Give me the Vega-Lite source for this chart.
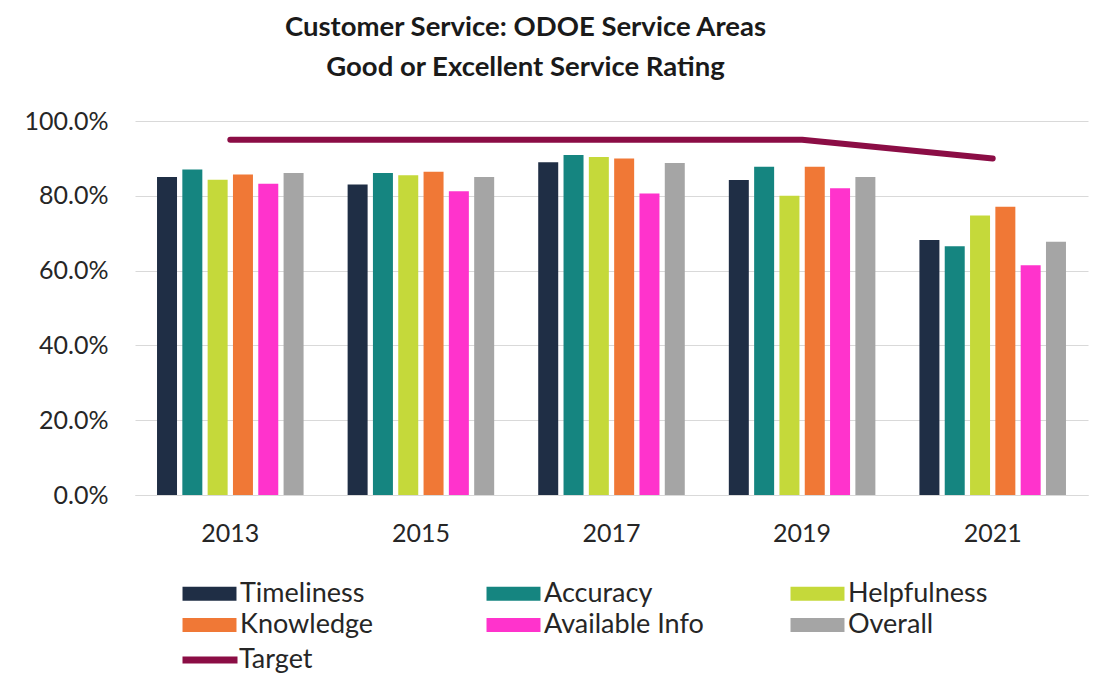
{
  "$schema": "https://vega.github.io/schema/vega-lite/v6.json",
  "width": 953,
  "height": 374,
  "autosize": {"type": "none"},
  "padding": {"left": 135, "top": 121, "right": 17, "bottom": 178},
  "background": "white",
  "title": {
    "text": ["Customer Service: ODOE Service Areas", "Good or Excellent Service Rating"],
    "font": "Lato", "fontSize": 27.5, "fontWeight": "bold", "color": "#1a1a1a",
    "lineHeight": 40, "anchor": "middle", "dx": -86, "offset": 28
  },
  "config": {"view": {"stroke": null}},
  "datasets": {
    "bars": [
      {"year": "2013", "series": "Timeliness", "value": 0.85},
      {"year": "2013", "series": "Accuracy", "value": 0.87},
      {"year": "2013", "series": "Helpfulness", "value": 0.843},
      {"year": "2013", "series": "Knowledge", "value": 0.857},
      {"year": "2013", "series": "Available Info", "value": 0.832},
      {"year": "2013", "series": "Overall", "value": 0.861},
      {"year": "2015", "series": "Timeliness", "value": 0.83},
      {"year": "2015", "series": "Accuracy", "value": 0.861},
      {"year": "2015", "series": "Helpfulness", "value": 0.855},
      {"year": "2015", "series": "Knowledge", "value": 0.864},
      {"year": "2015", "series": "Available Info", "value": 0.812},
      {"year": "2015", "series": "Overall", "value": 0.85},
      {"year": "2017", "series": "Timeliness", "value": 0.89},
      {"year": "2017", "series": "Accuracy", "value": 0.909},
      {"year": "2017", "series": "Helpfulness", "value": 0.904},
      {"year": "2017", "series": "Knowledge", "value": 0.9},
      {"year": "2017", "series": "Available Info", "value": 0.806},
      {"year": "2017", "series": "Overall", "value": 0.888},
      {"year": "2019", "series": "Timeliness", "value": 0.842},
      {"year": "2019", "series": "Accuracy", "value": 0.878},
      {"year": "2019", "series": "Helpfulness", "value": 0.8},
      {"year": "2019", "series": "Knowledge", "value": 0.878},
      {"year": "2019", "series": "Available Info", "value": 0.82},
      {"year": "2019", "series": "Overall", "value": 0.85},
      {"year": "2021", "series": "Timeliness", "value": 0.682},
      {"year": "2021", "series": "Accuracy", "value": 0.665},
      {"year": "2021", "series": "Helpfulness", "value": 0.747},
      {"year": "2021", "series": "Knowledge", "value": 0.771},
      {"year": "2021", "series": "Available Info", "value": 0.614},
      {"year": "2021", "series": "Overall", "value": 0.677}
    ],
    "target": [
      {"year": "2013", "series": "Target", "value": 0.95},
      {"year": "2015", "series": "Target", "value": 0.95},
      {"year": "2017", "series": "Target", "value": 0.95},
      {"year": "2019", "series": "Target", "value": 0.95},
      {"year": "2021", "series": "Target", "value": 0.90}
    ]
  },
  "layer": [
    {
      "data": {"name": "bars"},
      "mark": {"type": "bar"},
      "encoding": {
        "x": {
          "field": "year", "type": "nominal",
          "scale": {"paddingInner": 0, "paddingOuter": 0},
          "axis": {
            "title": null, "labelAngle": 0, "labelFont": "Lato", "labelFontSize": 25,
            "labelColor": "#262626", "labelPadding": 26, "ticks": false,
            "domainColor": "#D9D9D9", "domainWidth": 1, "grid": false
          }
        },
        "xOffset": {
          "field": "series", "type": "nominal",
          "sort": ["Timeliness", "Accuracy", "Helpfulness", "Knowledge", "Available Info", "Overall"],
          "scale": {"paddingInner": 0.21, "paddingOuter": 0.87}
        },
        "y": {
          "field": "value", "type": "quantitative",
          "scale": {"domain": [0, 1], "nice": false},
          "axis": {
            "title": null, "format": ".1%", "values": [0, 0.2, 0.4, 0.6, 0.8, 1.0],
            "labelFont": "Lato", "labelFontSize": 25, "labelColor": "#262626",
            "labelPadding": 27, "ticks": false, "domain": false,
            "gridColor": "#D9D9D9", "gridWidth": 1
          }
        },
        "fill": {
          "field": "series", "type": "nominal",
          "sort": ["Timeliness", "Accuracy", "Helpfulness", "Knowledge", "Available Info", "Overall"],
          "scale": {
            "domain": ["Timeliness", "Accuracy", "Helpfulness", "Knowledge", "Available Info", "Overall"],
            "range": ["#1F2E45", "#158580", "#C5D93A", "#F07836", "#FF33CC", "#A5A5A5"]
          },
          "legend": {
            "orient": "none", "legendX": 60, "legendY": 458,
            "direction": "horizontal", "columns": 3, "title": null,
            "symbolType": "M-1.9,-0.5H1.9V0.5H-1.9Z", "symbolSize": 807,
            "symbolStrokeWidth": 0,
            "labelFont": "Lato", "labelFontSize": 27, "labelColor": "#262626",
            "labelOffset": 16, "gridAlign": "all", "columnPadding": 86, "rowPadding": 3.5,
            "labelLimit": 300
          }
        }
      }
    },
    {
      "data": {"name": "target"},
      "mark": {"type": "line", "strokeWidth": 6, "strokeCap": "round", "strokeJoin": "round"},
      "encoding": {
        "x": {"field": "year", "type": "nominal"},
        "y": {"field": "value", "type": "quantitative"},
        "stroke": {
          "field": "series", "type": "nominal",
          "scale": {"domain": ["Target"], "range": ["#8B0D45"]},
          "legend": {
            "orient": "none", "legendX": 44, "legendY": 508, "title": null,
            "symbolType": "stroke", "symbolSize": 3025, "symbolStrokeWidth": 7,
            "labelFont": "Lato", "labelFontSize": 27, "labelColor": "#262626",
            "labelOffset": -2
          }
        }
      }
    }
  ]
}
